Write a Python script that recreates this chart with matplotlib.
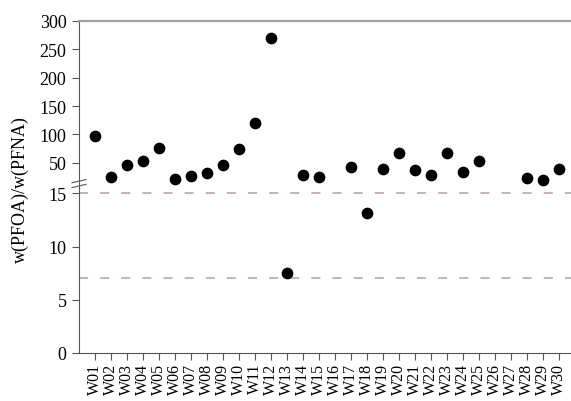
import numpy as np
import matplotlib
matplotlib.use("Agg")
import matplotlib.pyplot as plt

plt.rcParams['font.family'] = ['Liberation Serif', 'DejaVu Serif']

# ---- data ----
sites = [f"W{i:02d}" for i in range(1, 31)]
ratio = [97, 25, 45.4, 52.5, 76, 20.8, 26, 32, 46.5, 74.6,
         120, 269.5, 7.55, 27.8, 25.4, np.nan, 42.4, 13.1, 38.4, 67,
         36.6, 27.8, 66.5, 34.2, 52.5, np.nan, np.nan, 23.6, 20, 38.4]
ref_lines = [15, 7]
upper_ticks = [50, 100, 150, 200, 250, 300]
lower_ticks = [0, 5, 10, 15]

ratio = np.array(ratio, dtype=float)
x = np.arange(1, len(sites) + 1)
split = 15.4

fig = plt.figure(figsize=(5.71, 4.02), dpi=100)
left, right = 79 / 571, 1.0
ax_lo = fig.add_axes([left, 48 / 402, right - left, 164 / 402])
ax_hi = fig.add_axes([left, 212 / 402, right - left, 168 / 402])

spine_c = '#555555'
for ax in (ax_lo, ax_hi):
    ax.set_xlim(0, 30.75)
    ax.spines['right'].set_visible(False)
    ax.spines['left'].set_color(spine_c)
    ax.tick_params(axis='y', direction='out', length=5, color=spine_c,
                   labelsize=13, pad=4)

# lower section
lo = ratio <= split
ax_lo.scatter(x[lo], ratio[lo], s=55, color='black', zorder=3)
for v in ref_lines:
    ax_lo.axhline(v, color='#c4abac', lw=1.3, ls=(0, (5, 6.7)), zorder=1)
ax_lo.set_ylim(0, split)
ax_lo.set_yticks(lower_ticks)
ax_lo.spines['top'].set_visible(False)
ax_lo.spines['bottom'].set_color(spine_c)
ax_lo.set_xticks(x)
ax_lo.set_xticklabels(sites, rotation=90, fontsize=11.5)
ax_lo.tick_params(axis='x', direction='out', length=5, color=spine_c, pad=2)

# upper section
hi = ratio > split
ax_hi.scatter(x[hi], ratio[hi], s=55, color='black', zorder=3)
ax_hi.set_ylim(3.7, 300)
ax_hi.set_yticks(upper_ticks)
ax_hi.spines['bottom'].set_visible(False)
ax_hi.spines['top'].set_color('#a0a0a0')
ax_hi.spines['top'].set_linewidth(1.6)
ax_hi.set_xticks([])

# break marks on the left spine
for dy in (0.0, 0.012):
    fig.add_artist(plt.Line2D([72 / 571, 79 / 571, 86 / 571],
                              [1 - (187 - dy * 402) / 402 - 0.004,
                               1 - (187 - dy * 402) / 402,
                               1 - (187 - dy * 402) / 402 + 0.004],
                              color='#666666', lw=0.9))

fig.text(0.035, 1 - 190 / 402, 'w(PFOA)/w(PFNA)', rotation=90,
         ha='center', va='center', fontsize=13)

fig.savefig('out.png', dpi=100)
